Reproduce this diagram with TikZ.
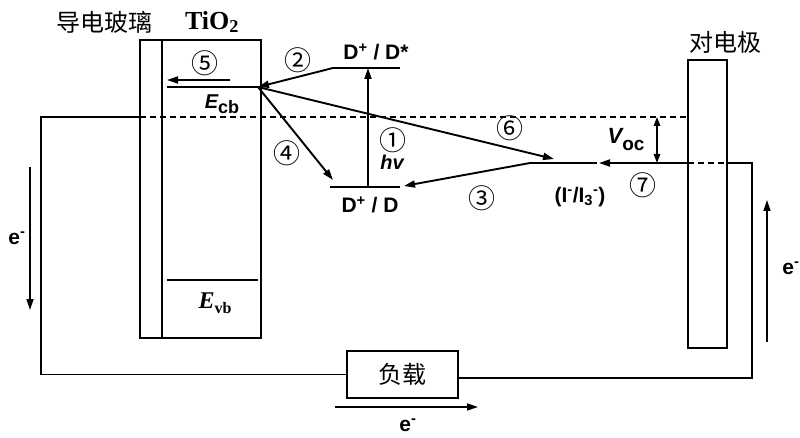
\documentclass[tikz,border=0pt]{standalone}
\usepackage{fontspec}
\setmainfont{Liberation Serif}
\setsansfont{Liberation Sans}
\newfontfamily\cjk{Noto Sans CJK SC}
\usetikzlibrary{arrows.meta}
\begin{document}
\begin{tikzpicture}[x=1pt,y=-1pt,line width=1.9pt,
  arr/.style={-{Triangle[length=11pt,width=7pt]}},
  darr/.style={{Triangle[length=9pt,width=6.5pt]}-{Triangle[length=9pt,width=6.5pt]}},
  lab/.style={font=\sffamily\bfseries\fontsize{21}{21}\selectfont,inner sep=0pt},
  circ/.style={font=\cjk\fontsize{27}{27}\selectfont,inner sep=0pt},
  zh/.style={font=\cjk\fontsize{24}{24}\selectfont,inner sep=0pt},
  dashline/.style={dash pattern=on 6pt off 4pt},
  elab/.style={font=\sffamily\bfseries\fontsize{21}{21}\selectfont,inner sep=0pt}]
\useasboundingbox (0,0) rectangle (800,438);
% titles
\node[zh] (tglass) at (104,22) {导电玻璃};
\node[font=\rmfamily\bfseries\fontsize{26}{26}\selectfont,inner sep=0pt] (ttio) at (212,22) {TiO\textsubscript{2}};
\node[zh] (tce) at (725,42) {对电极};
% left box (glass + TiO2)
\draw (140,40) rectangle (261,338);
\draw (162,40) -- (162,338);
% counter electrode
\draw (688,60) rectangle (727,348);
% energy levels
\coordinate (cbL) at (167,87);
\coordinate (cb) at (258,87);
\draw (cbL) -- (cb);
\coordinate (vbL) at (167,280);
\coordinate (vbR) at (258,280);
\draw (vbL) -- (vbR);
\coordinate (dsL) at (333,68);
\coordinate (dsR) at (400,68);
\draw (dsL) -- (dsR);
\coordinate (dL) at (330,187);
\coordinate (dR) at (400,187);
\draw (dL) -- (dR);
\coordinate (iL) at (530,163);
\coordinate (iR) at (597,163);
\draw (iL) -- (iR);
% Fermi level (dashed)
\coordinate (fL) at (140,117);
\coordinate (fR) at (688,117);
\draw[dashline] (fL) -- (fR);
% counter electrode level
\coordinate (ceL) at (688,163);
\coordinate (ceR) at (727,163);
\draw[dashline] (ceL) -- (ceR);
% circuit
\node[draw,zh,minimum width=111pt,minimum height=47pt] (load) at (402.5,374.5) {负载};
\coordinate (lt) at (41,117);
\coordinate (lb) at (41,374.5);
\draw (fL) -- (lt) -- (lb) -- (load.west);
\coordinate (rt) at (752,163);
\coordinate (rb) at (752,378);
\draw (ceR) -- (rt) -- (rb) -- (load.east |- rb);
% process arrows
\coordinate (p5s) at (230,80);
\coordinate (p5e) at (167,80);
\draw[arr] (p5s) -- (p5e);
\draw[arr] (dsL) -- (cb);
\coordinate (p4e) at (333,180);
\draw[arr] (cb) -- (p4e);
\coordinate (p6e) at (554,159);
\draw[arr] (cb) -- (p6e);
\coordinate (p1s) at (368,187);
\coordinate (p1e) at (368,68);
\draw[arr] (p1s) -- (p1e);
\coordinate (p3e) at (404,186);
\draw[arr] (iL) -- (p3e);
\coordinate (p7e) at (599,163);
\draw[arr] (ceL) -- (p7e);
\coordinate (vt) at (657,117);
\coordinate (vb) at (657,163);
\draw[darr,line width=1.5pt] (vt) -- (vb);
% electron flow arrows
\coordinate (eLs) at (30,167);
\coordinate (eLe) at (30,310);
\draw[arr,line width=1.4pt] (eLs) -- (eLe);
\coordinate (eRs) at (767,342);
\coordinate (eRe) at (767,200);
\draw[arr,line width=1.4pt] (eRs) -- (eRe);
\coordinate (eBs) at (335,407);
\coordinate (eBe) at (478,407);
\draw[arr,line width=1.4pt] (eBs) -- (eBe);
% labels
\node[lab] (lds) at (376,52) {D\textsuperscript{+} / D*};
\node[lab] (ld) at (370,205) {D\textsuperscript{+} / D};
\node[lab] (li) at (580,197) {(I\textsuperscript{-}/I\textsubscript{3}\textsuperscript{-})};
\node[inner sep=0pt] (lvoc) at (626,140) {\sffamily\bfseries\itshape\fontsize{22}{22}\selectfont V\raisebox{-7pt}{\upshape\fontsize{19}{19}\selectfont oc}};
\node[inner sep=0pt] (lecb) at (222,104) {\sffamily\bfseries\itshape\fontsize{20}{20}\selectfont E\raisebox{-5pt}{\upshape\fontsize{18}{18}\selectfont cb}};
\node[inner sep=0pt] (levb) at (215,303) {\rmfamily\bfseries\itshape\fontsize{24}{24}\selectfont E\raisebox{-5pt}{\upshape\fontsize{16}{16}\selectfont vb}};
\node[lab,font=\sffamily\bfseries\itshape\fontsize{20}{20}\selectfont] (lhv) at (392,162) {hv};
\node[circ] (n1) at (393,140) {①};
\node[circ] (n2) at (298,60) {②};
\node[circ] (n3) at (482,198) {③};
\node[circ] (n4) at (287,153) {④};
\node[circ] (n5) at (205,63) {⑤};
\node[circ] (n6) at (510,128) {⑥};
\node[circ] (n7) at (643,185) {⑦};
\node[elab] (le1) at (17,238) {e\textsuperscript{-}};
\node[elab] (le2) at (791,268) {e\textsuperscript{-}};
\node[elab] (le3) at (408,425) {e\textsuperscript{-}};
\end{tikzpicture}
\end{document}
